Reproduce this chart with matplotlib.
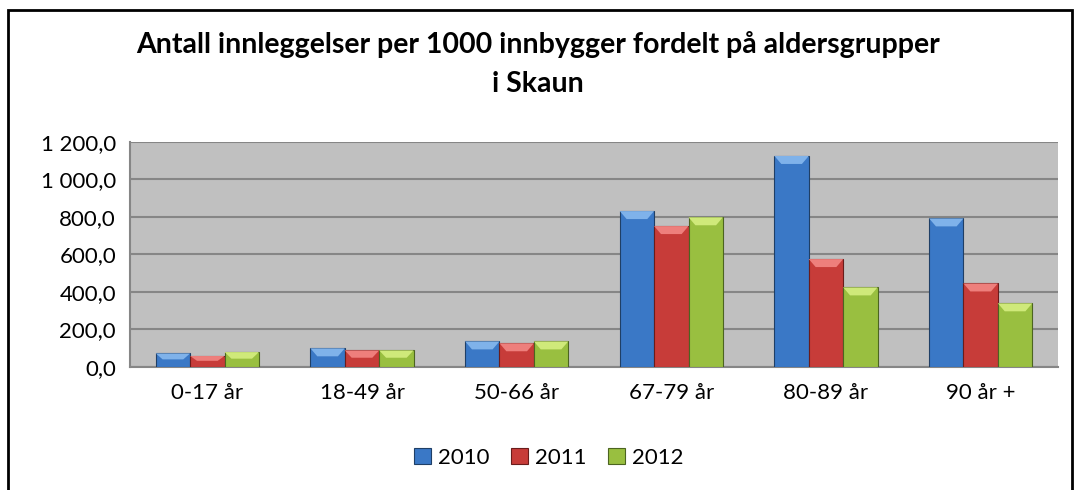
import matplotlib.pyplot as plt
import numpy as np
from matplotlib.patches import Polygon, Rectangle
from matplotlib.ticker import FuncFormatter

# data
groups = ['0-17 år', '18-49 år', '50-66 år', '67-79 år', '80-89 år', '90 år +']
years = ['2010', '2011', '2012']
v2010 = [71, 98, 135, 830, 1124, 791]
v2011 = [57, 87, 125, 750, 574, 444]
v2012 = [78, 87, 135, 797, 423, 338]

colors = ['#3a78c6', '#c73c39', '#99bf40']
tops = ['#7fb2ea', '#ee7f7c', '#cfe97a']
edges = ['#1f3f66', '#6a1c1b', '#4c6420']

plt.rcParams['font.family'] = ['Lato', 'DejaVu Sans']

fig = plt.figure(figsize=(10.76, 4.9), dpi=100)
ax = fig.add_axes([130/1076., 1 - 366.7/490., 928/1076., 225/490.])

x = np.arange(len(groups))
width = 0.667 / 3
series = [v2010, v2011, v2012]

# bevel depth in data units (approx 8px)
bev_y = 8 * 1200 / 225.
for i, vals in enumerate(series):
    bars = ax.bar(x + (i - 1) * width, vals, width, color=colors[i],
                  edgecolor=edges[i], linewidth=0.8, label=years[i], zorder=3)
    for b in bars:
        x0, w, h = b.get_x(), b.get_width(), b.get_height()
        dx = w * 0.2
        d = min(bev_y, h * 0.45)
        ax.add_patch(Polygon([[x0, h], [x0 + w, h], [x0 + w - dx, h - d], [x0 + dx, h - d]],
                             closed=True, facecolor=tops[i], edgecolor='none', zorder=4))

ax.set_facecolor('#c0c0c0')
ax.set_xlim(-0.5, len(groups) - 0.5)
ax.set_ylim(0, 1200)
ax.set_yticks(np.arange(0, 1201, 200))
ax.yaxis.set_major_formatter(FuncFormatter(lambda v, p: '{:,.1f}'.format(v).replace(',', ' ').replace('.', ',')))
ax.grid(axis='y', color='#868686', linewidth=1.5, zorder=1)
ax.set_xticks(x)
ax.set_xticklabels(groups)
ax.tick_params(axis='both', length=0, labelsize=16, pad=10)
ax.tick_params(axis='x', pad=12)
for s in ['top', 'right']:
    ax.spines[s].set_visible(False)
for s in ['left', 'bottom']:
    ax.spines[s].set_color('#868686')
    ax.spines[s].set_linewidth(1.5)

fig.text(0.5, 1 - 45/490., 'Antall innleggelser per 1000 innbygger fordelt på aldersgrupper',
         ha='center', va='center', fontsize=20.5, fontweight='bold')
fig.text(0.5, 1 - 84/490., 'i Skaun', ha='center', va='center', fontsize=20.5, fontweight='bold')

leg = fig.legend(loc='center', bbox_to_anchor=(0.51, 1 - 458/490.), ncol=3, frameon=False,
                 fontsize=16, handlelength=0.75, handleheight=0.75, handletextpad=0.3,
                 columnspacing=1.0)

# outer frame of the chart
fig.patches.append(Rectangle((8/1076., -0.1), 1064/1076., 1.1 - 10/490., transform=fig.transFigure,
                             fill=False, edgecolor='black', linewidth=2))

fig.savefig('out.png', dpi=100)
